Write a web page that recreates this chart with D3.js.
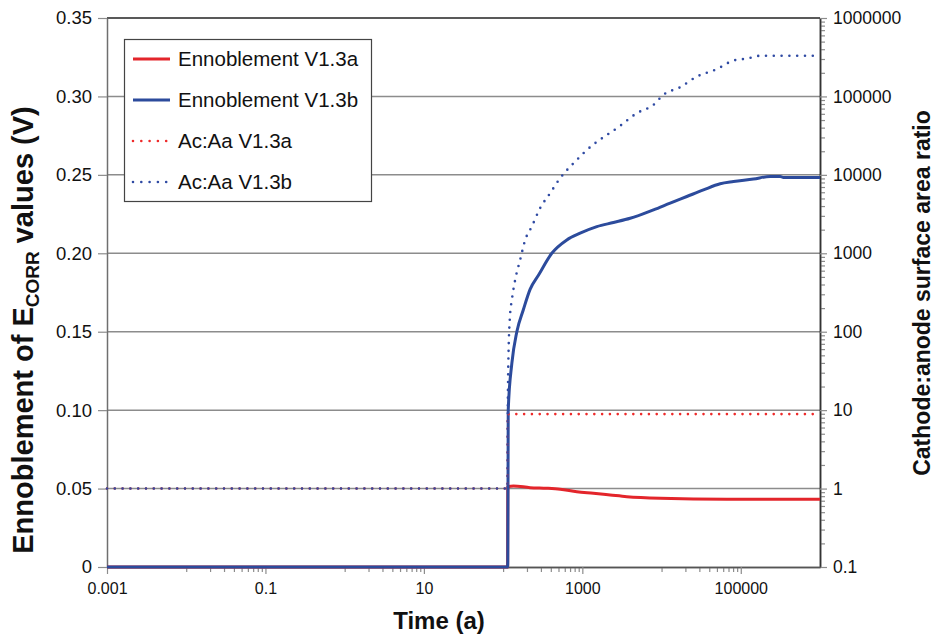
<!DOCTYPE html>
<html>
<head>
<meta charset="utf-8">
<script src="https://cdn.jsdelivr.net/npm/d3@7"></script>
<style>
  body { margin: 0; background: #fff; }
  svg { display: block; font-family: "Liberation Sans", Arial, sans-serif; }
</style>
</head>
<body>
<svg id="chart" width="935" height="636"></svg>
<script>
// ---- data -------------------------------------------------------------
// Ennoblement of Ecorr (V), V1.3a
const enbATime  = [0.001, 114, 114.6, 135, 219, 356, 525, 852, 1380, 2244, 3645, 9600, 66700, 1000000];
const enbAValue = [0, 0, 0.0512, 0.0517, 0.0506, 0.0502, 0.0496, 0.048, 0.047, 0.0459, 0.0448, 0.0438, 0.0432, 0.0432];

// Ennoblement of Ecorr (V), V1.3b
const enbBTime  = [0.001, 114, 114.6, 116, 129, 149, 180, 219, 279, 412, 637, 938, 1524, 2472, 4015, 7906,
                   12850, 20850, 33800, 54950, 80900, 144600, 235000, 314000, 346000, 1000000];
const enbBValue = [0, 0, 0.004, 0.100, 0.130, 0.150, 0.164, 0.177, 0.186, 0.200, 0.2085, 0.2128, 0.217, 0.2196, 0.2223, 0.2277,
                   0.232, 0.2362, 0.2404, 0.2443, 0.2457, 0.2473, 0.249, 0.249, 0.2483, 0.2483];

// Cathode:anode surface area ratio, V1.3a
const acATime  = [0.001, 114, 114.6, 1000000];
const acARatio = [1, 1, 8.9, 8.9];

// Cathode:anode surface area ratio, V1.3b
const acBTime  = [0.001, 114, 114.6, 116.4, 122, 129, 142, 164, 190, 230, 293, 392, 525, 852, 1084, 3000, 4875,
                  7906, 10570, 17180, 27900, 49900, 80900, 119400, 175700, 1000000];
const acBRatio = [1, 1, 10, 40, 156, 255, 458, 824, 1480, 2190, 3760, 5840, 9080, 15500, 19800, 42200, 61200,
                  78100, 105000, 131000, 179000, 223000, 287000, 304000, 330000, 330000];

// ---- axis ticks -------------------------------------------------------
const leftTickValues  = [0, 0.05, 0.10, 0.15, 0.20, 0.25, 0.30, 0.35];
const leftTickLabels  = ["0", "0.05", "0.10", "0.15", "0.20", "0.25", "0.30", "0.35"];
const xMajorValues    = [0.001, 0.1, 10, 1000, 100000];
const xMajorLabels    = ["0.001", "0.1", "10", "1000", "100000"];
const xMinorDecades   = [0.01, 1, 100, 10000];
const rightTickValues = [0.1, 1, 10, 100, 1000, 10000, 100000, 1000000];
const rightTickLabels = ["0.1", "1", "10", "100", "1000", "10000", "100000", "1000000"];

const seriesNames = ["Ennoblement V1.3a", "Ennoblement V1.3b", "Ac:Aa V1.3a", "Ac:Aa V1.3b"];
const RED = "#e3252b", BLUE = "#2c4b9c";

// ---- layout -----------------------------------------------------------
const plot = { left: 107, right: 820, top: 18, bottom: 567 };
const svg = d3.select("#chart");

const x  = d3.scaleLog().domain([0.001, 1000000]).range([plot.left, plot.right]);
const yL = d3.scaleLinear().domain([0, 0.35]).range([plot.bottom, plot.top]);
const yR = d3.scaleLog().domain([0.1, 1000000]).range([plot.bottom, plot.top]);

// horizontal gridlines
svg.append("g").selectAll("line")
  .data(leftTickValues.filter(v => v > 0 && v < 0.35))
  .join("line")
  .attr("x1", plot.left).attr("x2", plot.right)
  .attr("y1", d => yL(d)).attr("y2", d => yL(d))
  .attr("stroke", "#8c8c8c").attr("stroke-width", 1.5);

// top frame line
svg.append("line")
  .attr("x1", plot.left).attr("x2", plot.right)
  .attr("y1", yL(0.35)).attr("y2", yL(0.35))
  .attr("stroke", "#222").attr("stroke-width", 1.5);

function styleAxis(g, lineColor) {
  g.select(".domain").attr("stroke", lineColor).attr("stroke-width", 1.5);
  g.selectAll(".tick line").attr("stroke", "#8c8c8c").attr("stroke-width", 1.2);
  g.selectAll("text").attr("fill", "#111").attr("font-family", "Liberation Sans, Arial, sans-serif");
}

// left axis
const gL = svg.append("g").attr("transform", `translate(${plot.left},0)`)
  .call(d3.axisLeft(yL).tickValues(leftTickValues).tickFormat((d, i) => leftTickLabels[i])
        .tickSize(9).tickSizeOuter(0).tickPadding(6));
styleAxis(gL, "#6f6f6f");
gL.selectAll("text").attr("font-size", 18.5);

// right axis: minor and major ticks
const rightMinor = [];
rightTickValues.slice(0, -1).forEach(d => { for (let k = 2; k <= 9; k++) rightMinor.push(d * k); });
const gRm = svg.append("g").attr("transform", `translate(${plot.right},0)`)
  .call(d3.axisRight(yR).tickValues(rightMinor).tickFormat("").tickSize(5).tickSizeOuter(0));
styleAxis(gRm, "#333");
const gR = svg.append("g").attr("transform", `translate(${plot.right},0)`)
  .call(d3.axisRight(yR).tickValues(rightTickValues).tickFormat((d, i) => rightTickLabels[i])
        .tickSize(7).tickSizeOuter(0).tickPadding(6));
styleAxis(gR, "#333");
gR.selectAll("text").attr("font-size", 17.5);

// bottom axis: minor and major ticks
const xMinor = [];
xMinorDecades.forEach(d => { for (let k = 1; k <= 9; k++) xMinor.push(d * k); });
const gXm = svg.append("g").attr("transform", `translate(0,${plot.bottom})`)
  .call(d3.axisBottom(x).tickValues(xMinor).tickFormat("").tickSize(5).tickSizeOuter(0));
styleAxis(gXm, "#555");
const gX = svg.append("g").attr("transform", `translate(0,${plot.bottom})`)
  .call(d3.axisBottom(x).tickValues(xMajorValues).tickFormat((d, i) => xMajorLabels[i])
        .tickSize(7).tickSizeOuter(0).tickPadding(9));
styleAxis(gX, "#555");
gX.selectAll("text").attr("font-size", 16);

// ---- series -----------------------------------------------------------
svg.append("clipPath").attr("id", "plotClip").append("rect")
  .attr("x", plot.left - 2).attr("y", plot.top - 4)
  .attr("width", plot.right - plot.left + 4).attr("height", plot.bottom - plot.top + 6);

const series = [
  { t: enbATime, v: enbAValue, y: yL, color: RED,  dotted: false },
  { t: enbBTime, v: enbBValue, y: yL, color: BLUE, dotted: false },
  { t: acATime,  v: acARatio,  y: yR, color: "#ee2a2a", dotted: true },
  { t: acBTime,  v: acBRatio,  y: yR, color: "#2f4aa3", dotted: true }
];

const gS = svg.append("g").attr("clip-path", "url(#plotClip)");
series.forEach(s => {
  const pts = s.t.map((t, i) => [t, s.v[i]]);
  const line = d3.line().curve(d3.curveMonotoneX).x(d => x(d[0])).y(d => s.y(d[1]));
  const p = gS.append("path").datum(pts)
    .attr("d", line)
    .attr("fill", "none")
    .attr("stroke", s.color)
    .attr("stroke-linejoin", "round");
  if (s.dotted) {
    p.attr("stroke-width", 2.6).attr("stroke-dasharray", "0 7.8").attr("stroke-linecap", "round");
  } else {
    p.attr("stroke-width", 3).attr("stroke-linecap", "butt");
  }
});

// ---- legend -----------------------------------------------------------
const lg = svg.append("g");
lg.append("rect").attr("x", 124.5).attr("y", 39.5).attr("width", 247).attr("height", 162)
  .attr("fill", "#fff").attr("stroke", "#444").attr("stroke-width", 1.2);
const rowY = [59, 100, 141, 182];
series.forEach((s, i) => {
  lg.append("line")
    .attr("x1", 133).attr("x2", 170).attr("y1", rowY[i]).attr("y2", rowY[i])
    .attr("stroke", s.color)
    .attr("stroke-width", s.dotted ? 2.6 : 3)
    .attr("stroke-dasharray", s.dotted ? "0 8.3" : null)
    .attr("stroke-linecap", s.dotted ? "round" : "butt");
  lg.append("text")
    .attr("x", 178).attr("y", rowY[i]).attr("dy", "0.35em")
    .attr("font-size", 20.5).attr("fill", "#111")
    .text(seriesNames[i]);
});

// ---- axis titles ------------------------------------------------------
svg.append("text")
  .attr("x", 439).attr("y", 629)
  .attr("text-anchor", "middle")
  .attr("font-weight", "bold").attr("font-size", 24).attr("fill", "#111")
  .text("Time (a)");

const lt = svg.append("text")
  .attr("transform", "translate(33,330) rotate(-90)")
  .attr("text-anchor", "middle")
  .attr("font-weight", "bold").attr("font-size", 29).attr("fill", "#111");
lt.append("tspan").text("Ennoblement of E");
lt.append("tspan").attr("font-size", 19).attr("dy", 6).text("CORR");
lt.append("tspan").attr("dy", -6).text(" values (V)");

svg.append("text")
  .attr("transform", "translate(930,293) rotate(-90)")
  .attr("text-anchor", "middle")
  .attr("font-weight", "bold").attr("font-size", 23).attr("fill", "#111")
  .text("Cathode:anode surface area ratio");
</script>
</body>
</html>
